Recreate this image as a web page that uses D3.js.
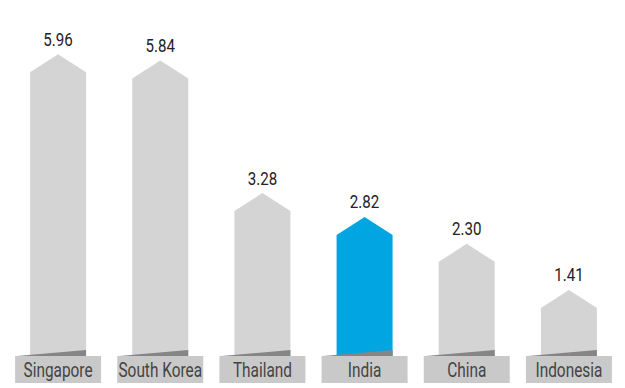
<!DOCTYPE html>
<html>
<head>
<meta charset="utf-8">
<script src="https://cdn.jsdelivr.net/npm/d3@7"></script>
<style>
  html, body { margin: 0; padding: 0; background: #fff; }
  svg text { font-family: Roboto, "Noto Sans", sans-serif; }
</style>
</head>
<body>
<svg id="chart" width="625" height="388"></svg>
<script>
const countries = ['Singapore', 'South Korea', 'Thailand', 'India', 'China', 'Indonesia'];
const values = [5.96, 5.84, 3.28, 2.82, 2.30, 1.41];
const highlight = 'India';

const barWidth = 56;
const boxWidth = 86;
const roofRise = 18;
const boxTop = 356;
const boxBottom = 383;

const data = countries.map((c, i) => ({name: c, value: values[i]}));

const svg = d3.select('#chart');

const x = d3.scaleBand()
  .domain(countries)
  .range([7, 620]);

const y = d3.scaleLinear()
  .domain([0, 6])
  .range([363, 52.2]);

const cx = (d) => x(d.name) + x.bandwidth() / 2;

// bars with a pointed roof
svg.append('g')
  .selectAll('path')
  .data(data)
  .join('path')
  .attr('d', (d) => {
    const l = cx(d) - barWidth / 2;
    const r = cx(d) + barWidth / 2;
    const top = y(d.value);
    return `M${l},${y(0)}L${l},${top + roofRise}L${cx(d)},${top}` +
      `L${r},${top + roofRise}L${r},${y(0)}Z`;
  })
  .attr('fill', (d) => d.name === highlight ? '#00a5e2' : '#d4d4d4');

// dark shadow wedge at the base
svg.append('g')
  .selectAll('path')
  .data(data)
  .join('path')
  .attr('d', (d) => {
    const l = cx(d) - boxWidth / 2 + 2;
    const r = cx(d) + barWidth / 2;
    return `M${l},${boxTop}L${r},${boxTop - 6}L${r},${boxTop}Z`;
  })
  .attr('fill', '#858585');

// label boxes
svg.append('g')
  .selectAll('rect')
  .data(data)
  .join('rect')
  .attr('x', (d) => cx(d) - boxWidth / 2)
  .attr('y', boxTop)
  .attr('width', boxWidth)
  .attr('height', boxBottom - boxTop)
  .attr('fill', '#c9c9c9');

svg.append('g')
  .selectAll('text')
  .data(data)
  .join('text')
  .attr('transform', (d) => `translate(${cx(d)},${boxBottom - 6}) scale(0.77,1)`)
  .attr('text-anchor', 'middle')
  .attr('font-size', 20)
  .attr('fill', '#444')
  .text((d) => d.name);

// value labels
svg.append('g')
  .selectAll('text')
  .data(data)
  .join('text')
  .attr('transform', (d) => `translate(${cx(d)},${y(d.value) - 8.5}) scale(0.84,1)`)
  .attr('text-anchor', 'middle')
  .attr('font-size', 18)
  .attr('fill', '#222')
  .text((d) => d.value.toFixed(2));
</script>
</body>
</html>
